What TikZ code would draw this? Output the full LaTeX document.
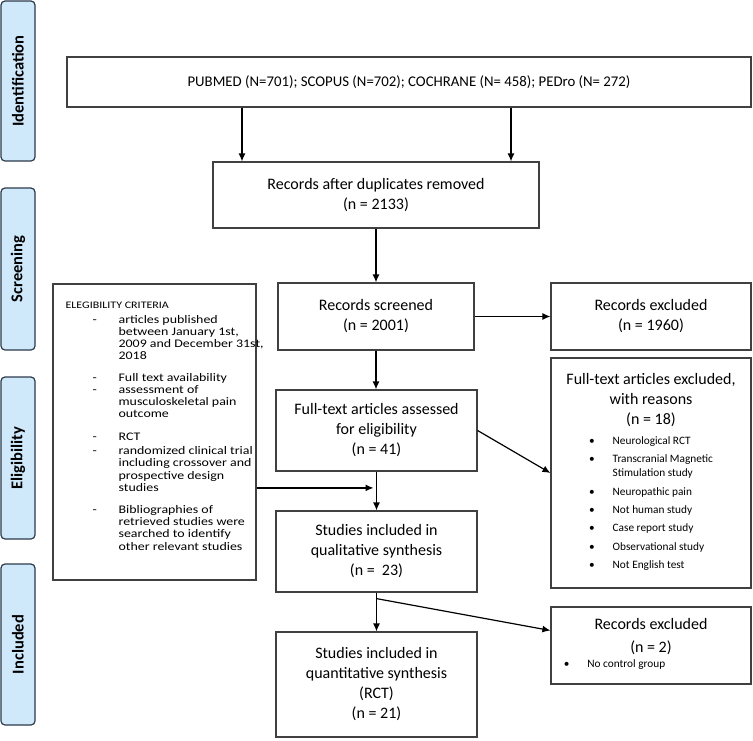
\documentclass[tikz,border=0pt]{standalone}
\usepackage{fontspec}
\setmainfont{Carlito}
\newfontfamily\critfont[FakeStretch=1.2]{Carlito}
\usetikzlibrary{arrows.meta,calc}
\definecolor{phasefill}{HTML}{CFE8FA}
\definecolor{phaseborder}{HTML}{2B3A4A}
\definecolor{boxgray}{HTML}{404040}
\newcommand\critdash[1]{\mbox{\makebox[53pt][l]{\hspace{27pt}-}#1}}
\newcommand\critcont[1]{\mbox{\hspace*{53pt}#1}}
\newcommand\critspacing{\setlength{\lineskiplimit}{-20pt}\setlength{\lineskip}{0pt}}
\begin{document}
\begin{tikzpicture}[x=1pt,y=-1pt,
  box/.style={draw=boxgray,line width=1.2pt,rectangle,inner sep=2pt,align=center,
    font=\fontsize{16}{20}\selectfont},
  phase/.style={draw=phaseborder,fill=phasefill,line width=1.2pt,rounded corners=4pt,
    rotate=90,minimum height=34pt,inner sep=0pt,font=\fontsize{16.5}{18}\selectfont\bfseries},
  arr/.style={-{Latex[length=8pt,width=7pt]},line width=1.2pt},
  crittxt/.style={inner sep=0pt,align=left,anchor=north west,
    font=\critfont\fontsize{11.6}{12.2}\selectfont}
]
\useasboundingbox (0,0) rectangle (753,740);

% phase labels
\node[phase,minimum width=160pt] (pid) at (18,81) {Identification};
\node[phase,minimum width=162pt] (pscr) at (18,269) {Screening};
\node[phase,minimum width=162pt] (pel) at (18,458) {Eligibility};
\node[phase,minimum width=161pt] (pinc) at (18,644.5) {Included};

% main boxes
\node[box,minimum width=684pt,minimum height=50pt,font=\fontsize{14.8}{18}\selectfont] (top) at (409,82)
  {PUBMED (N=701); SCOPUS (N=702); COCHRANE (N= 458); PEDro (N= 272)};
\node[box,minimum width=326pt,minimum height=66pt] (rec) at (376,195)
  {Records after duplicates removed\\(n = 2133)};
\node[box,minimum width=196pt,minimum height=67pt] (scr) at (376,316.5)
  {Records screened\\(n = 2001)};
\node[box,minimum width=200pt,minimum height=67pt] (ex1) at (651,316.5)
  {Records excluded\\(n = 1960)};
\node[box,minimum width=201pt,minimum height=81pt] (ass) at (376.5,430.5)
  {Full-text articles assessed\\for eligibility\\(n = 41)};
\node[box,minimum width=201pt,minimum height=81pt] (qual) at (376.5,551.5)
  {Studies included in\\qualitative synthesis\\(n =\ \ 23)};
\node[box,minimum width=201pt,minimum height=105pt] (quant) at (376.5,684.5)
  {Studies included in\\quantitative synthesis\\(RCT)\\(n = 21)};

% eligibility criteria
\node[box,minimum width=203pt,minimum height=296pt] (crit) at (154.5,432) {};
\node[crittxt] (crittext) at ($(crit.north west)+(13,18)$) {\critspacing
{\fontsize{10}{12.2}\selectfont ELEGIBILITY CRITERIA}\\[2.8pt]
\critdash{articles published}\\
\critcont{between January 1st,}\\
\critcont{2009 and December 31st,}\\
\critcont{2018}\\[9.5pt]
\critdash{Full text availability}\\
\critdash{assessment of}\\
\critcont{musculoskeletal pain}\\
\critcont{outcome}\\[10.5pt]
\critdash{RCT}\\[1.8pt]
\critdash{randomized clinical trial}\\
\critcont{including crossover and}\\
\critcont{prospective design}\\
\critcont{studies}\\[10pt]
\critdash{Bibliographies of}\\
\critcont{retrieved studies were}\\
\critcont{searched to identify}\\
\critcont{other relevant studies}};

% full-text excluded
\node[box,minimum width=200pt,minimum height=230pt] (ftex) at (651,473) {%
Full-text articles excluded,\\with reasons\\(n = 18)\\
{\fontsize{11.3}{14}\selectfont
\begin{tabular}[t]{@{}l@{\hspace{18pt}}l@{}}
\textbullet & Neurological RCT\\[4.3pt]
\textbullet & Transcranial Magnetic\\
            & Stimulation study\\[4.3pt]
\textbullet & Neuropathic pain\\[4.3pt]
\textbullet & Not human study\\[4.3pt]
\textbullet & Case report study\\[4.3pt]
\textbullet & Observational study\\[4.3pt]
\textbullet & Not English test
\end{tabular}}};

% records excluded n=2
\node[box,minimum width=200pt,minimum height=77pt] (ex2) at (651,645.5) {%
Records excluded\\[3pt](n = 2)\\[-5pt]
{\fontsize{11.3}{14}\selectfont
\begin{tabular}[t]{@{}l@{\hspace{18pt}}l@{}}
\textbullet & No control group
\end{tabular}\hspace{73pt}\mbox{}}};

% connectors
\coordinate (a1) at (242,0);
\coordinate (a2) at (511,0);
\draw[arr] (top.south -| a1) -- (rec.north -| a1);
\draw[arr] (top.south -| a2) -- (rec.north -| a2);
\draw[arr] (rec.south) -- (rec.south |- scr.north);
\draw[arr] (scr.east) -- (ex1.west);
\draw[arr] (scr.south) -- (scr.south |- ass.north);
\draw[arr] (ass.east) -- (ftex.west);
\draw[arr] (ass.south) -- (qual.north);
\coordinate (cj) at ($(ass.south)!0.42!(qual.north)$);
\draw[arr,shorten >=3pt] (crit.east |- cj) -- (cj);
\draw[arr] (qual.south) -- (quant.north);
\coordinate (qs) at ($(qual.south)+(0,6)$);
\draw[arr] (qs) -- ($(ex2.west)+(0,-15)$);
\end{tikzpicture}
\end{document}
